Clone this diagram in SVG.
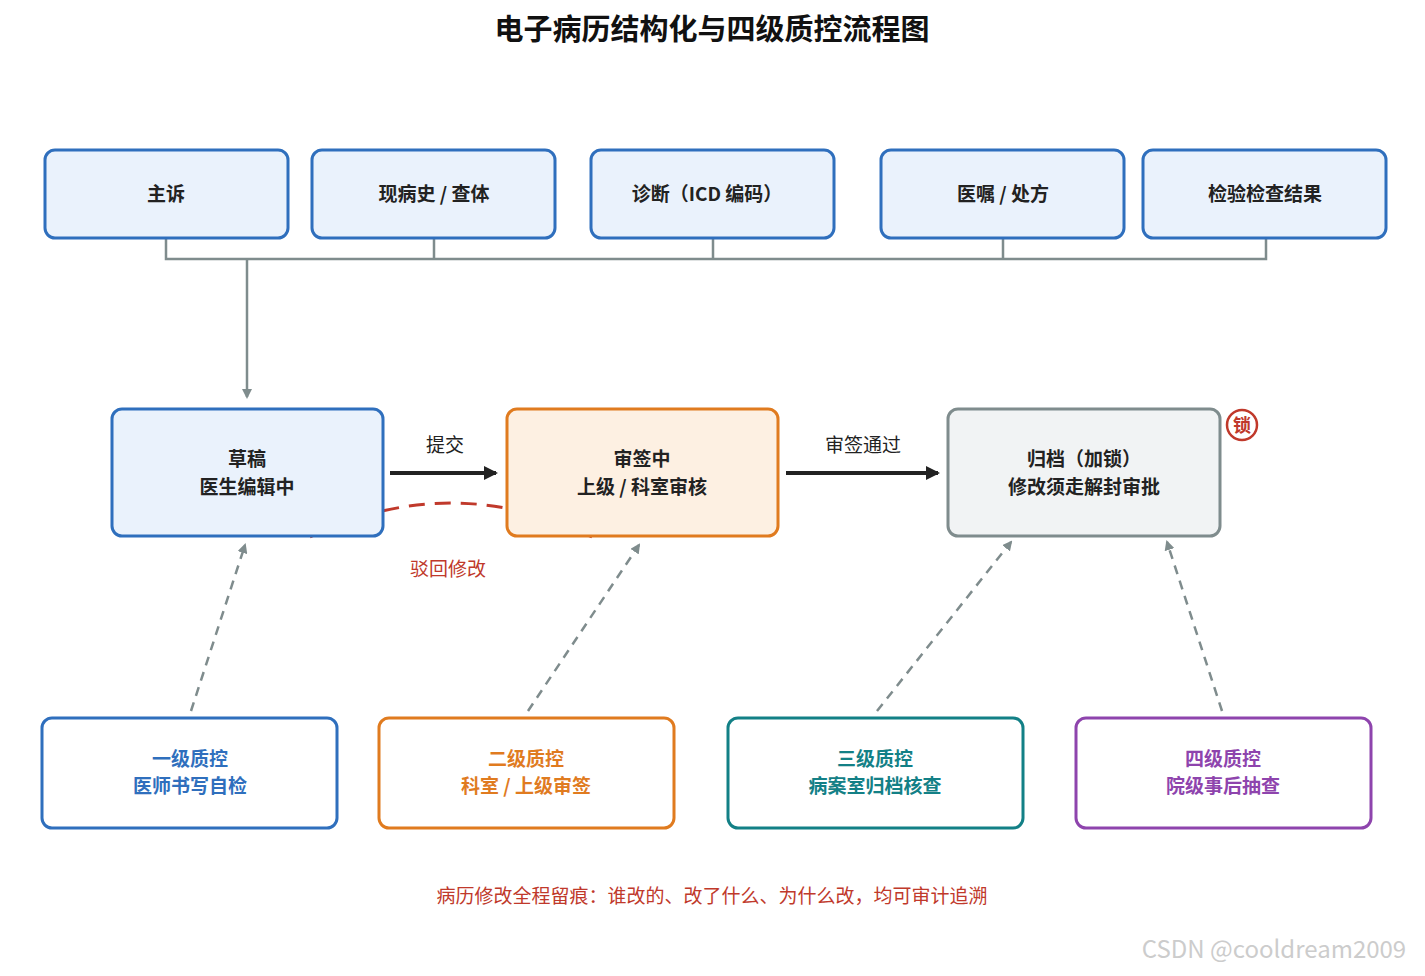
<svg xmlns="http://www.w3.org/2000/svg" width="1425" height="976" viewBox="0 0 1425 976">
<style>
text{font-family:"Noto Sans CJK SC","Noto Sans",sans-serif;text-anchor:middle}
.t{font-size:19px;font-weight:bold;fill:#222}
.f{fill:#eaf2fc;stroke:#2f6fbd;stroke-width:3}
.q{fill:#fff;stroke-width:3}
.g{fill:none;stroke:#7f8c8d;stroke-width:2.5}
.d{fill:none;stroke:#7f8c8d;stroke-width:2.5;stroke-dasharray:9 7}
</style>
<defs>
<marker id="ag" markerWidth="10" markerHeight="10" refX="8" refY="5" orient="auto" markerUnits="userSpaceOnUse"><path d="M0,0L10,5L0,10z" fill="#7f8c8d"/></marker>
<marker id="ab" markerWidth="14" markerHeight="14" refX="12" refY="7" orient="auto" markerUnits="userSpaceOnUse"><path d="M0,0L14,7L0,14z" fill="#222"/></marker>
</defs>
<rect width="1425" height="976" fill="#fff"/>
<text x="712" y="40" style="font-size:29px;font-weight:bold;fill:#111">电子病历结构化与四级质控流程图</text>
<g id="connectors">
<path class="g" d="M166,238V259H1266V238M434,238V259M713,238V259M1003,238V259"/>
<path class="g" d="M247,259V397" marker-end="url(#ag)"/>
<path d="M310,537Q451,469 592,537" fill="none" stroke="#c0392b" stroke-width="3" stroke-dasharray="16 10"/>
<path d="M390,473H496" stroke="#222" stroke-width="4" marker-end="url(#ab)"/>
<path d="M786,473H938" stroke="#222" stroke-width="4" marker-end="url(#ab)"/>
<path class="d" d="M191,711L245,545" marker-end="url(#ag)"/>
<path class="d" d="M528,711L639,545" marker-end="url(#ag)"/>
<path class="d" d="M877,711L1011,542" marker-end="url(#ag)"/>
<path class="d" d="M1222,711L1167,542" marker-end="url(#ag)"/>
<text x="445" y="452" style="font-size:19px;fill:#222">提交</text>
<text x="863" y="452" style="font-size:19px;fill:#222">审签通过</text>
<text x="448" y="576" style="font-size:19px;fill:#c0392b">驳回修改</text>
</g>
<g id="n1"><rect class="f" x="45" y="150" width="243" height="88" rx="10"/><text class="t" x="166" y="201">主诉</text></g>
<g id="n2"><rect class="f" x="312" y="150" width="243" height="88" rx="10"/><text class="t" x="434" y="201">现病史 / 查体</text></g>
<g id="n3"><rect class="f" x="591" y="150" width="243" height="88" rx="10"/><text class="t" x="707" y="201">诊断（ICD 编码）</text></g>
<g id="n4"><rect class="f" x="881" y="150" width="243" height="88" rx="10"/><text class="t" x="1003" y="201">医嘱 / 处方</text></g>
<g id="n5"><rect class="f" x="1143" y="150" width="243" height="88" rx="10"/><text class="t" x="1265" y="201">检验检查结果</text></g>
<g id="draft"><rect class="f" x="112" y="409" width="271" height="127" rx="10"/><text class="t" x="247" y="466">草稿</text><text class="t" x="247" y="494">医生编辑中</text></g>
<g id="review"><rect x="507" y="409" width="271" height="127" rx="10" fill="#fdf0e2" stroke="#e07b1f" stroke-width="3"/><text class="t" x="642" y="466">审签中</text><text class="t" x="642" y="494">上级 / 科室审核</text></g>
<g id="archive"><rect x="948" y="409" width="272" height="127" rx="10" fill="#f1f3f4" stroke="#7f8c8d" stroke-width="3"/><text class="t" x="1084" y="466">归档（加锁）</text><text class="t" x="1084" y="494">修改须走解封审批</text></g>
<g id="lock"><circle cx="1242" cy="425" r="15" fill="#fff" stroke="#c0392b" stroke-width="2.5"/><text x="1242" y="432" style="font-size:18px;font-weight:bold;fill:#c0392b">锁</text></g>
<g id="q1"><rect class="q" x="42" y="718" width="295" height="110" rx="10" stroke="#2f6fbd"/><text class="t" x="190" y="766" fill="#2f6fbd" style="fill:#2f6fbd">一级质控</text><text class="t" x="190" y="793" style="fill:#2f6fbd">医师书写自检</text></g>
<g id="q2"><rect class="q" x="379" y="718" width="295" height="110" rx="10" stroke="#e07b1f"/><text class="t" x="526" y="766" style="fill:#e07b1f">二级质控</text><text class="t" x="526" y="793" style="fill:#e07b1f">科室 / 上级审签</text></g>
<g id="q3"><rect class="q" x="728" y="718" width="295" height="110" rx="10" stroke="#138086"/><text class="t" x="875" y="766" style="fill:#138086">三级质控</text><text class="t" x="875" y="793" style="fill:#138086">病案室归档核查</text></g>
<g id="q4"><rect class="q" x="1076" y="718" width="295" height="110" rx="10" stroke="#8e44ad"/><text class="t" x="1223" y="766" style="fill:#8e44ad">四级质控</text><text class="t" x="1223" y="793" style="fill:#8e44ad">院级事后抽查</text></g>
<text x="712" y="903" style="font-size:19px;fill:#c0392b">病历修改全程留痕：谁改的、改了什么、为什么改，均可审计追溯</text>
<text x="1274" y="958" style="font-size:24px;fill:#ccc">CSDN @cooldream2009</text>
</svg>
